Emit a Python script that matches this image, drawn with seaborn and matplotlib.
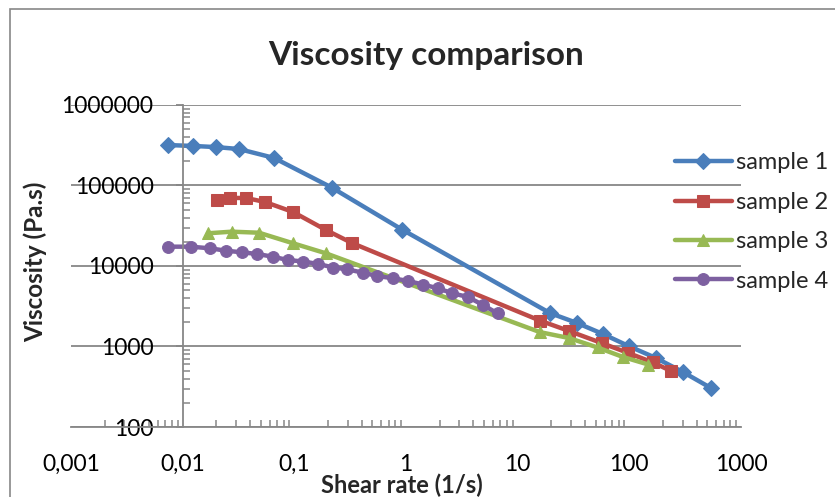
import matplotlib
matplotlib.use("Agg")
import matplotlib.pyplot as plt
import matplotlib.ticker as mticker
from matplotlib.patches import Rectangle
import numpy as np
import pandas as pd
import seaborn as sns

# Shear rate (1/s) and viscosity (Pa.s) for each sample
s1_rate = [0.0074, 0.0124, 0.0199, 0.0319, 0.0658, 0.217, 0.92, 19.5, 34, 58, 99, 173, 302, 538]
s1_visc = [318000, 310000, 300000, 284000, 220000, 94000, 28400, 2600, 1960, 1430, 1010, 720, 482, 305]

s2_rate = [0.0203, 0.0266, 0.0369, 0.0546, 0.0973, 0.192, 0.328, 15.8, 28.8, 56.9, 98, 163, 236]
s2_visc = [66000, 70000, 70000, 62400, 46900, 28000, 19300, 2100, 1560, 1100, 830, 633, 497]

s3_rate = [0.0169, 0.0275, 0.0483, 0.098, 0.191, 15.8, 28.8, 51.9, 87.7, 148]
s3_visc = [25500, 26700, 25900, 19100, 14400, 1510, 1275, 972, 741, 597]

s4_rate = [0.00743, 0.0118, 0.01757, 0.02444, 0.0338, 0.0466, 0.064, 0.0872, 0.1203, 0.164,
           0.2234, 0.298, 0.4095, 0.553, 0.769, 1.048, 1.419, 1.934, 2.608, 3.59, 4.89, 6.6]
s4_visc = [17380, 17380, 16590, 15490, 14800, 14100, 13050, 11880, 11370, 10590,
           9580, 9100, 8260, 7510, 7030, 6510, 5890, 5280, 4580, 4120, 3280, 2580]

sample_names = ["sample 1", "sample 2", "sample 3", "sample 4"]
x_tick_values = [0.001, 0.01, 0.1, 1, 10, 100, 1000]
x_tick_labels = ["0,001", "0,01", "0,1", "1", "10", "100", "1000"]
y_tick_values = [100, 1000, 10000, 100000, 1000000]
y_tick_labels = ["100", "1000", "10000", "100000", "1000000"]

frames = []
for name, rate, visc in zip(sample_names,
                            [s1_rate, s2_rate, s3_rate, s4_rate],
                            [s1_visc, s2_visc, s3_visc, s4_visc]):
    frames.append(pd.DataFrame({"rate": rate, "visc": visc, "sample": name}))
df = pd.concat(frames, ignore_index=True)

colors = {"sample 1": "#4A7EBB", "sample 2": "#BE4B48",
          "sample 3": "#98B954", "sample 4": "#7D60A0"}
markers = {"sample 1": "D", "sample 2": "s", "sample 3": "^", "sample 4": "o"}
msizes = {"sample 1": 8.5, "sample 2": 8, "sample 3": 8.5, "sample 4": 8.5}

sns.set_theme(style="white")
plt.rcParams["font.family"] = ["Lato", "DejaVu Sans"]

W, H = 835, 497
fig = plt.figure(figsize=(W / 100, H / 100), dpi=100)
ax = fig.add_axes([71 / W, (H - 427) / H, 670 / W, 322 / H])

grey = "#878787"

for name in sample_names:
    sub = df[df["sample"] == name]
    sns.lineplot(data=sub, x="rate", y="visc", ax=ax, color=colors[name],
                 marker=markers[name], markersize=msizes[name],
                 markeredgecolor=colors[name], linewidth=3.2,
                 label=name, sort=False, estimator=None)

ax.set_xscale("log")
ax.set_yscale("log")
ax.set_xlim(0.001, 1000)
ax.set_ylim(100, 1000000)

# y axis crosses the x axis at 0.01
for side in ["top", "right"]:
    ax.spines[side].set_visible(False)
ax.spines["left"].set_position(("data", 0.01))
for side in ["left", "bottom"]:
    ax.spines[side].set_color(grey)
    ax.spines[side].set_linewidth(1.3)

ax.xaxis.set_major_locator(mticker.FixedLocator(x_tick_values))
ax.xaxis.set_major_formatter(mticker.FixedFormatter(x_tick_labels))
ax.xaxis.set_minor_locator(mticker.LogLocator(base=10, subs=np.arange(2, 10)))
ax.xaxis.set_minor_formatter(mticker.NullFormatter())
ax.yaxis.set_major_locator(mticker.FixedLocator(y_tick_values))
ax.yaxis.set_major_formatter(mticker.FixedFormatter(y_tick_labels))
ax.yaxis.set_minor_locator(mticker.LogLocator(base=10, subs=np.arange(2, 10)))
ax.yaxis.set_minor_formatter(mticker.NullFormatter())

ax.tick_params(axis="x", which="major", direction="inout", length=11, width=1.3,
               color=grey, labelsize=16.5, pad=14, labelcolor="black")
ax.tick_params(axis="x", which="minor", direction="in", length=5, width=1.1,
               color=grey, bottom=True)
ax.tick_params(axis="y", which="major", direction="out", length=5, width=1.3,
               color=grey, labelsize=16.5, pad=16, labelcolor="black", left=True)
ax.tick_params(axis="y", which="minor", direction="in", length=5, width=1.1,
               color=grey, left=True)

ax.grid(axis="y", which="major", color=grey, linewidth=1.3)
ax.grid(axis="x", visible=False)
ax.set_axisbelow(True)

ax.set_xlabel("")
ax.set_ylabel("")
fig.text(402 / W, (H - 485) / H, "Shear rate (1/s)", ha="center", va="center",
         fontsize=17, fontweight="bold")
fig.text(35 / W, (H - 262) / H, "Viscosity (Pa.s)", ha="center", va="center",
         rotation=90, fontsize=17.5, fontweight="bold")
fig.text(426 / W, (H - 56) / H, "Viscosity comparison", ha="center", va="center",
         fontsize=24, fontweight="bold")

leg = ax.legend(loc="center left", bbox_to_anchor=(675 / W, (H - 222) / H),
                bbox_transform=fig.transFigure, frameon=False, fontsize=17,
                handlelength=2.4, handletextpad=0.2, labelspacing=0.78,
                borderpad=0, borderaxespad=0)

# chart area border
fig.patches.append(Rectangle((10 / W, -0.2), 1.2, (H - 9) / H + 0.2,
                             transform=fig.transFigure, fill=False,
                             edgecolor=grey, linewidth=1.2))

fig.savefig("out.png", dpi=100)
